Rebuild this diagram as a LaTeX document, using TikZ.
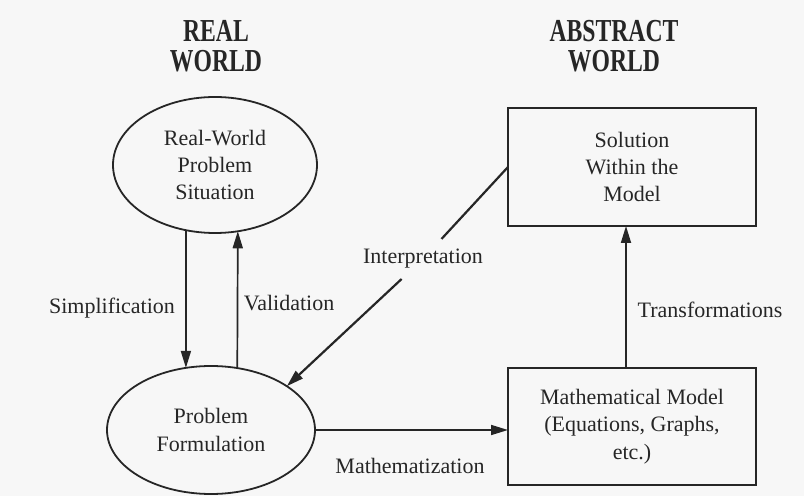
\documentclass[tikz,border=0pt]{standalone}
\usepackage{fontspec}
\setmainfont{Liberation Serif}
\usetikzlibrary{positioning,arrows.meta,shapes.geometric}

\begin{document}
\begin{tikzpicture}[x=0.5pt, y=-0.5pt,
    every node/.style={text=black!85, font=\fontsize{11}{13.7}\selectfont, align=center},
    title/.style={font=\fontsize{16}{15}\selectfont\bfseries},
    oval/.style={draw=black!85, ellipse, line width=0.9pt, inner sep=0pt, outer sep=0pt},
    box/.style={draw=black!85, rectangle, line width=0.9pt, minimum width=124pt, minimum height=59pt, outer sep=0pt},
    arr/.style={-{Triangle[length=8.5pt,width=5pt]}, line width=0.85pt, draw=black!85},
    lbl/.style={inner xsep=2pt, inner ysep=5pt}
]

    \useasboundingbox[fill=black!3] (0,0) rectangle (804,496);

    % Titles
    \node[title] (realt) at (216,46) {\scalebox{0.74}[1]{REAL}\\\scalebox{0.74}[1]{WORLD}};
    \node[title] (abst) at (614,46) {\scalebox{0.74}[1]{ABSTRACT}\\\scalebox{0.74}[1]{WORLD}};

    % Real world
    \node[oval, minimum width=102pt, minimum height=68pt] (rw) at (215,165) {Real-World\\Problem\\Situation};
    \node[oval, minimum width=104pt, minimum height=64pt] (pf) at (211,430) {Problem\\Formulation};

    % Abstract world
    \node[box] (sol) at (632,167) {Solution\\Within the\\Model};
    \node[box, minimum height=58.5pt] (mm) at (632,426.5) {Mathematical Model\\(Equations, Graphs,\\etc.)};

    % Labels
    \node (simp) at (112,308) {Simplification};
    \node (valid) at (289,303) {Validation};
    \node[lbl] (interp) at (423,259) {Interpretation};
    \node (mathz) at (410,466) {Mathematization};
    \node (trans) at (710,310) {Transformations};

    % Arrows
    \draw[arr] (rw.246) -- (pf.112);
    \draw[arr] (pf.67) -- (rw.289);
    \draw[line width=1.1pt, draw=black!85] (sol.west) -- (interp);
    \draw[arr, line width=1.1pt] (interp) -- (pf.30);
    \draw[arr] (pf.east) -- (pf.east -| mm.west);
    \draw[arr] ([xshift=-3pt]mm.north) -- ([xshift=-3pt]sol.south);

\end{tikzpicture}
\end{document}
